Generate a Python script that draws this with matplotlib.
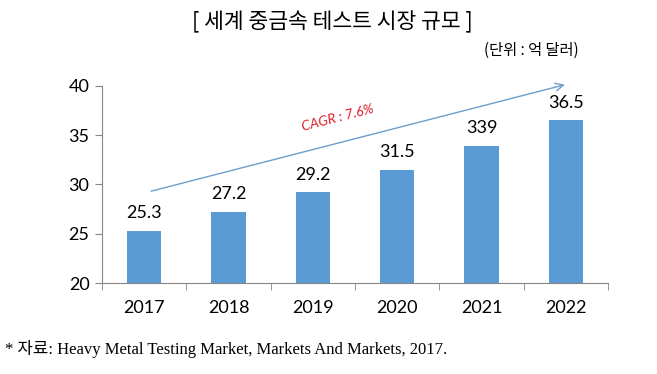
import matplotlib
matplotlib.use("Agg")
import matplotlib.pyplot as plt

years = ["2017", "2018", "2019", "2020", "2021", "2022"]
values = [25.3, 27.2, 29.2, 31.5, 33.9, 36.5]
value_labels = ["25.3", "27.2", "29.2", "31.5", "339", "36.5"]
yticks = [20, 25, 30, 35, 40]
title = "[ 세계 중금속 테스트 시장 규모 ]"
unit = "(단위 : 억 달러)"
cagr = "CAGR : 7.6%"
source = "* 자료: Heavy Metal Testing Market, Markets And Markets, 2017."

W, H = 657, 374
fig = plt.figure(figsize=(W / 100, H / 100), dpi=100)
ax = fig.add_axes([102 / W, 1 - 283 / H, (608 - 102) / W, (283 - 86) / H])

x = list(range(len(years)))
ax.bar(x, values, width=0.41, color="#5B9BD5", zorder=2)
ax.set_ylim(20, 40)
ax.set_xlim(-0.5, len(years) - 0.5)
ax.set_yticks(yticks)
ax.set_yticklabels([str(t) for t in yticks], fontsize=13, family="Lato")
ax.set_xticks(x)
ax.set_xticklabels(years, fontsize=13, family="Lato")
ax.set_xticks([i - 0.5 for i in range(len(years) + 1)], minor=True)
ax.tick_params(axis="x", which="major", length=0, pad=12)
ax.tick_params(axis="x", which="minor", length=5, color="#868686")
ax.tick_params(axis="y", length=5, color="#868686", pad=4)
for s in ["top", "right"]:
    ax.spines[s].set_visible(False)
for s in ["left", "bottom"]:
    ax.spines[s].set_color("#868686")

for xi, v, lab in zip(x, values, value_labels):
    ax.annotate(lab, (xi, v), xytext=(0, 7), textcoords="offset points",
                ha="center", va="bottom", fontsize=13, family="Lato")

ax.annotate("", xy=(5.02, 40.2), xytext=(0.05, 29.25),
            arrowprops=dict(arrowstyle="->", color="#6A9FCB", lw=1.0,
                            mutation_scale=14),
            annotation_clip=False)
ax.text(2.3, 36.8, cagr, color="#E0202A", fontsize=10, fontstyle="italic",
        family="Lato", rotation=14.5, ha="center", va="center")

fig.text(332 / W, 1 - 22 / H, title, ha="center", va="center", fontsize=15.5,
         family=["Noto Sans CJK KR", "DejaVu Sans"])
fig.text(531 / W, 1 - 50 / H, unit, ha="center", va="center", fontsize=11,
         family=["Noto Sans CJK KR", "DejaVu Sans"])
fig.text(5 / W, 1 - 349 / H, source, ha="left", va="center", fontsize=12,
         family=["Liberation Serif", "Noto Sans CJK KR"])

fig.savefig("out.png", dpi=100)
